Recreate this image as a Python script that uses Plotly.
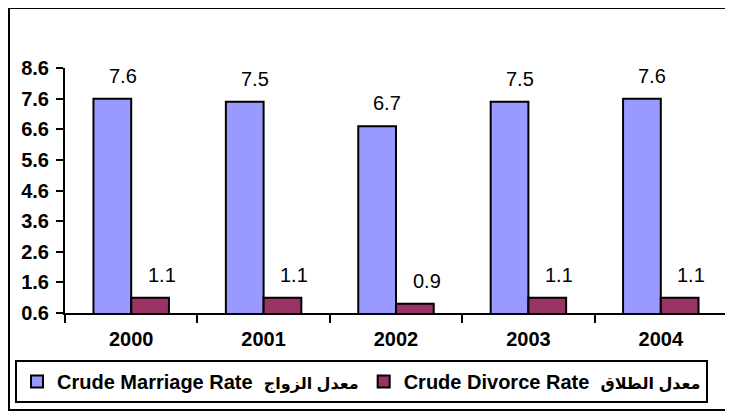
import plotly.graph_objects as go

years = ["2000", "2001", "2002", "2003", "2004"]
marriage = [7.6, 7.5, 6.7, 7.5, 7.6]
divorce = [1.1, 1.1, 0.9, 1.1, 1.1]
marriage_en, marriage_ar = "Crude Marriage Rate", "معدل الزواج"
divorce_en, divorce_ar = "Crude Divorce Rate", "معدل الطلاق"
ytick_vals = [0.6, 1.6, 2.6, 3.6, 4.6, 5.6, 6.6, 7.6, 8.6]

FONT = "Liberation Sans, Arial, DejaVu Sans, sans-serif"


def legend_name(en, ar):
    return f'{en}  <span style="font-size:16px">{ar}</span>'


fig = go.Figure()
fig.add_trace(go.Bar(x=years, y=marriage, name=legend_name(marriage_en, marriage_ar),
                     marker=dict(color="#9999FF", line=dict(color="black", width=2))))
fig.add_trace(go.Bar(x=years, y=divorce, name=legend_name(divorce_en, divorce_ar),
                     marker=dict(color="#993366", line=dict(color="black", width=2))))

for i, (m, d) in enumerate(zip(marriage, divorce)):
    fig.add_annotation(x=i - 0.14, y=m, xref="x", yref="y", text=f"{m:.1f}",
                       showarrow=False, yshift=23, xshift=10,
                       font=dict(family=FONT, size=20, color="black"))
    fig.add_annotation(x=i + 0.14, y=d, xref="x", yref="y", text=f"{d:.1f}",
                       showarrow=False, yshift=23, xshift=12,
                       font=dict(family=FONT, size=20, color="black"))

fig.update_layout(
    width=733, height=412,
    margin=dict(l=57, r=14, t=60, b=107, autoexpand=False),
    paper_bgcolor="white", plot_bgcolor="white",
    barmode="group", bargap=0.43, bargroupgap=0,
    font=dict(family=FONT, color="black"),
    showlegend=True,
    legend=dict(orientation="h", x=-0.0755, y=-0.192, xanchor="left", yanchor="top",
                bordercolor="black", borderwidth=2, bgcolor="white",
                font=dict(family=FONT, size=20, color="black", weight="bold"),
                itemwidth=30, tracegroupgap=0),
    xaxis=dict(type="category", tickson="boundaries", ticks="outside", ticklen=8,
               tickwidth=2, tickcolor="black", showline=True, linecolor="black",
               linewidth=2, showgrid=False, ticklabelstandoff=7,
               tickfont=dict(family=FONT, size=20, color="black", weight="bold")),
    yaxis=dict(range=[0.6, 8.6], tickvals=ytick_vals, tickformat=".1f",
               ticks="outside", ticklen=7, tickwidth=2, tickcolor="black",
               showline=True, linecolor="black", linewidth=2, showgrid=False,
               zeroline=False, ticklabelstandoff=3,
               tickfont=dict(family=FONT, size=20, color="black", weight="bold")),
    shapes=[dict(type="rect", xref="paper", yref="paper",
                 x0=-0.0846, x1=1.03, y0=-0.396, y1=1.245,
                 line=dict(color="black", width=2), layer="below")],
)

fig.write_html("out.html")
